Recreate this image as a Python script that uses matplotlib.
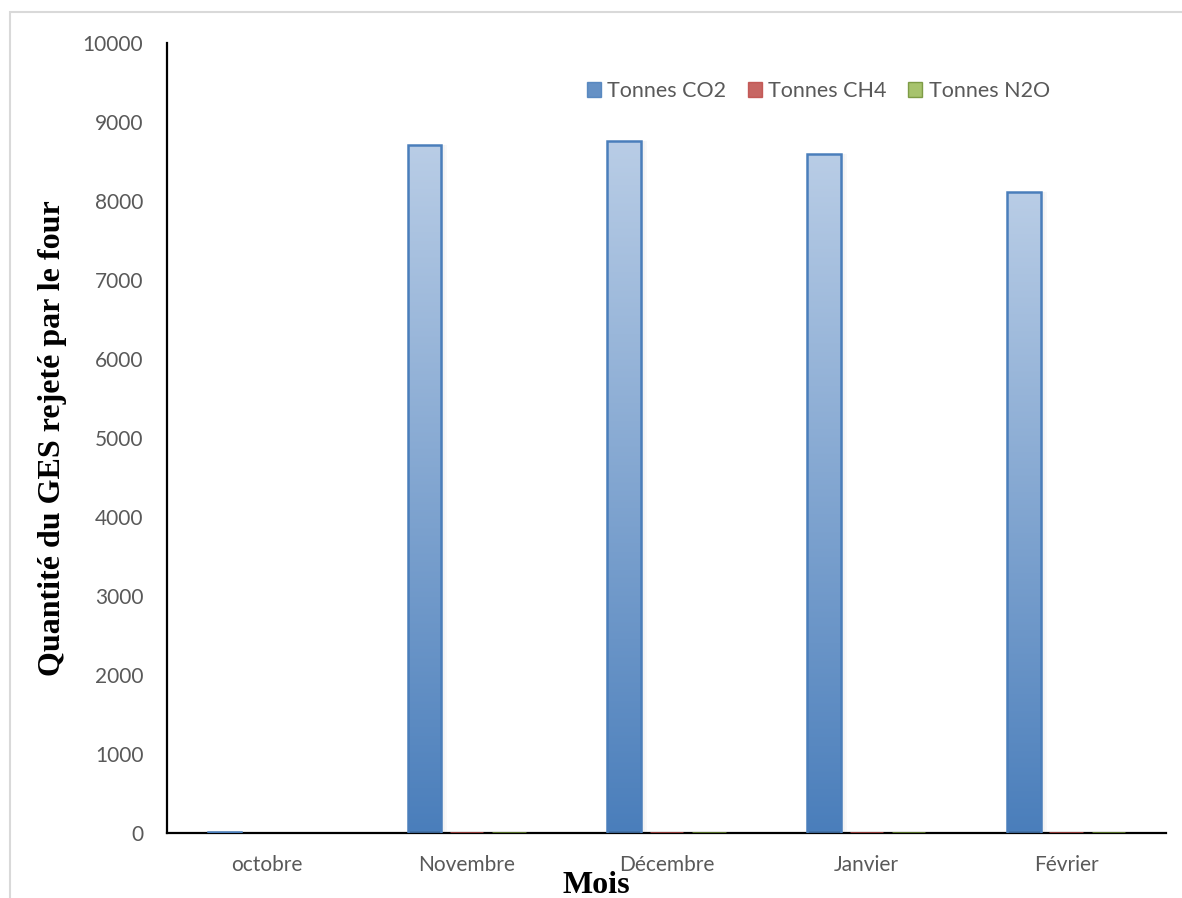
import numpy as np
import matplotlib
matplotlib.use("Agg")
import matplotlib.pyplot as plt
from matplotlib.patches import Rectangle, Patch
from matplotlib.colors import LinearSegmentedColormap
import matplotlib.transforms as mtransforms

# Data
months = ["octobre", "Novembre", "Décembre", "Janvier", "Février"]
co2 = [12, 8709, 8763, 8595, 8110]
ch4 = [0, 0.35, 0.35, 0.34, 0.32]
n2o = [0, 0.06, 0.06, 0.06, 0.05]
series_names = ["Tonnes CO2", "Tonnes CH4", "Tonnes N2O"]
yticks = [0, 1000, 2000, 3000, 4000, 5000, 6000, 7000, 8000, 9000, 10000]

# Style per series: (dark bottom, light top, edge)
styles = [
    ("#4a7ebb", "#b9cde6", "#4a7ebb"),
    ("#be4b48", "#e6b9b8", "#be4b48"),
    ("#98b954", "#d7e4bd", "#6f8f33"),
]

plt.rcParams["font.family"] = ["Lato", "DejaVu Sans"]

fig = plt.figure(figsize=(11.82, 8.98), dpi=100)
ax = fig.add_axes([167 / 1182, 1 - 833 / 898, 999 / 1182, 790 / 898])

# chart area outline
fig.patches.append(Rectangle((10 / 1182, -0.1), 1.2, 1.1 - 12 / 898,
                             transform=fig.transFigure, fill=False,
                             edgecolor="#d9d9d9", linewidth=1.5, zorder=0))

x = np.arange(len(months))
width = 0.168
step = 0.212
all_series = [co2, ch4, n2o]

grad = np.linspace(0, 1, 256).reshape(-1, 1)

for i, (vals, (dark, light, edge)) in enumerate(zip(all_series, styles)):
    cmap = LinearSegmentedColormap.from_list(f"g{i}", [dark, light])
    pos = x + (i - 1) * step
    shown = [v if v > 0 else np.nan for v in vals]
    bars = ax.bar(pos, shown, width, facecolor="none", edgecolor=edge,
                  linewidth=1.8, zorder=5)
    for b in bars:
        bx, bw, bh = b.get_x(), b.get_width(), b.get_height()
        if not np.isfinite(bh):
            continue
        # soft shadow on the right side
        for k, a in enumerate([0.06, 0.05, 0.04]):
            sh = Rectangle((bx, 0), bw, bh, facecolor="#7f7f7f", edgecolor="none",
                           alpha=a, zorder=1,
                           transform=ax.transData + mtransforms.ScaledTranslation(
                               (2 + 2 * k) / 100, 0, fig.dpi_scale_trans))
            ax.add_patch(sh)
        im = ax.imshow(grad, extent=[bx, bx + bw, 0, bh], origin="lower",
                       aspect="auto", cmap=cmap, zorder=2, interpolation="bilinear")
        im.set_clip_path(b)

ax.set_xlim(-0.5, 4.5)
ax.set_ylim(0, 10000)
ax.set_xticks(x)
ax.set_xticklabels(months)
ax.set_yticks(yticks)
ax.set_yticklabels([str(t) for t in yticks])
ax.tick_params(axis="both", length=0, labelsize=15, colors="#595959")
ax.tick_params(axis="x", pad=16)
ax.tick_params(axis="y", pad=17)

for s in ["top", "right"]:
    ax.spines[s].set_visible(False)
for s in ["left", "bottom"]:
    ax.spines[s].set_color("black")
    ax.spines[s].set_linewidth(1.6)
    ax.spines[s].set_zorder(4)

ax.set_ylabel("Quantité du GES rejeté par le four",
              family=["Liberation Serif"], fontweight="bold", fontsize=23)
ax.yaxis.set_label_coords(-0.100, 0.5)

fig.text(596 / 1182, 1 - 893 / 898, "Mois", family=["Liberation Serif"],
         fontweight="bold", fontsize=23, ha="center", va="baseline")

handles = [Patch(facecolor=st[0], edgecolor=st[2], alpha=0.85) for st in styles]
leg = ax.legend(handles, series_names, loc="center", bbox_to_anchor=(0.652, 0.939),
                ncol=3, frameon=False, fontsize=15.5, handlelength=0.65,
                handleheight=0.65, handletextpad=0.3, columnspacing=1.0)
for t in leg.get_texts():
    t.set_color("#595959")

fig.savefig("out.png", dpi=100)
